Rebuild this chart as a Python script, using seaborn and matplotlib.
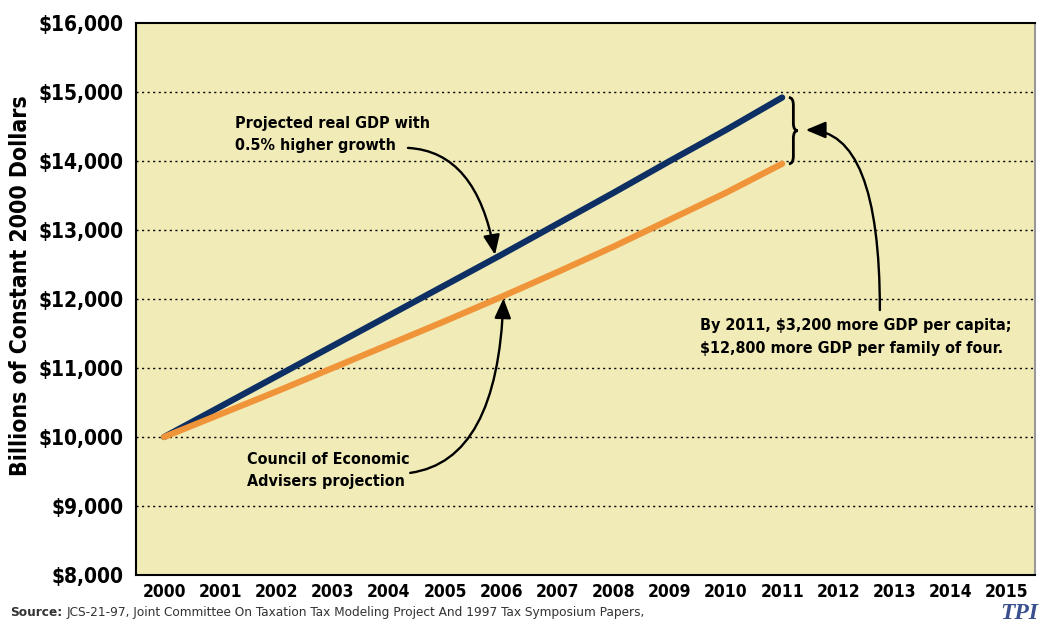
import numpy as np
import pandas as pd
import matplotlib
matplotlib.use("Agg")
import matplotlib.pyplot as plt
import seaborn as sns
from matplotlib.path import Path
from matplotlib.patches import PathPatch

# GDP projections, billions of constant 2000 dollars
years = list(range(2000, 2012))
higher_growth = [10000, 10440, 10880, 11320, 11760, 12200, 12640, 13090, 13540, 14000, 14450, 14920]
cea_projection = [10000, 10330, 10660, 11000, 11340, 11680, 12030, 12390, 12760, 13150, 13540, 13960]
x_labels = [str(y) for y in range(2000, 2016)]
y_ticks = list(range(8000, 16001, 1000))

BG = "#F1ECB7"
NAVY = "#0D2F63"
ORANGE = "#F0943A"

sns.set_theme(style="white")
plt.rcParams["font.family"] = ["DejaVu Sans"]
plt.rcParams["font.stretch"] = "condensed"
plt.rcParams["font.weight"] = "bold"
for key in ["text.color", "axes.labelcolor", "xtick.color", "ytick.color"]:
    plt.rcParams[key] = "black"

df = pd.DataFrame({
    "year": years * 2,
    "gdp": higher_growth + cea_projection,
    "series": ["higher"] * len(years) + ["cea"] * len(years),
})

fig = plt.figure(figsize=(10.47, 6.27), dpi=100)
ax = fig.add_axes([0.1299, 0.0829, 0.8586, 0.8804])
ax.set_facecolor(BG)

sns.lineplot(data=df, x="year", y="gdp", hue="series",
             palette={"higher": NAVY, "cea": ORANGE},
             linewidth=4.5, legend=False, ax=ax, zorder=3)
for ln in ax.get_lines():
    ln.set_solid_capstyle("round")

ax.set_xlim(1999.5, 2015.5)
ax.set_ylim(8000, 16000)
ax.set_yticks(y_ticks)
ax.set_yticklabels([f"${v:,}" for v in y_ticks], fontsize=15, fontweight="bold")
for v in y_ticks[1:-1]:
    ax.axhline(v, color="black", lw=1, ls=(0, (1.5, 2.5)), zorder=1)

# category labels centred, separator ticks at boundaries
ax.set_xticks(np.arange(1999.5, 2016, 1))
ax.set_xticklabels([])
ax.tick_params(axis="x", direction="out", length=6, width=1.2, color="black", pad=0)
ax.tick_params(axis="y", direction="out", length=6, width=1.2, color="black", pad=3)
for i, lab in enumerate(x_labels):
    ax.text(2000 + i, -0.014, lab, transform=ax.get_xaxis_transform(),
            ha="center", va="top", fontsize=12.5, fontweight="bold")

for side in ["left", "bottom", "top"]:
    ax.spines[side].set_color("black")
    ax.spines[side].set_linewidth(1.5)
ax.spines["right"].set_color("#999999")
ax.spines["right"].set_linewidth(1.5)

ax.set_xlabel("")
ax.set_ylabel("Billions of Constant 2000 Dollars", fontsize=16.5, fontweight="bold")
ax.yaxis.set_label_coords(-0.116, 0.525)

# annotation texts
txt_kw = dict(fontsize=11.5, fontweight="bold", ha="left", va="center", linespacing=1.6)
ax.text(2001.26, 14385, "Projected real GDP with\n0.5% higher growth", **txt_kw)
ax.text(2001.48, 9515, "Council of Economic\nAdvisers projection", **txt_kw)
ax.text(2009.54, 11450, "By 2011, $3,200 more GDP per capita;\n$12,800 more GDP per family of four.", **txt_kw)

# curved arrows
arrow = dict(arrowstyle="-|>,head_length=1.0,head_width=0.42", color="black", lw=1.7,
             shrinkA=0, shrinkB=0)
ax.annotate("", xy=(2005.89, 12640), xytext=(2004.34, 14190),
            arrowprops=dict(arrow, connectionstyle="angle3,angleA=-3,angleB=-80"))
ax.annotate("", xy=(2006.04, 12010), xytext=(2004.38, 9480),
            arrowprops=dict(arrow, connectionstyle="angle3,angleA=8,angleB=88"))
ax.annotate("", xy=(2011.42, 14450), xytext=(2012.74, 11840),
            arrowprops=dict(arrow, connectionstyle="angle3,angleA=90,angleB=0"))

# curly brace between the two 2011 end points
bx, top, bot = 2011.12, higher_growth[-1], cea_projection[-1]
mid = (top + bot) / 2
w = 0.16
h = w / 2
upper = Path([(bx, top), (bx + h, top), (bx + h, top - 110),
              (bx + h, mid + 110), (bx + h, mid), (bx + w, mid)],
             [Path.MOVETO, Path.CURVE3, Path.CURVE3, Path.LINETO, Path.CURVE3, Path.CURVE3])
lower = Path([(bx + w, mid), (bx + h, mid), (bx + h, mid - 110),
              (bx + h, bot + 110), (bx + h, bot), (bx, bot)],
             [Path.MOVETO, Path.CURVE3, Path.CURVE3, Path.LINETO, Path.CURVE3, Path.CURVE3])
for p in (upper, lower):
    ax.add_patch(PathPatch(p, fill=False, lw=2, edgecolor="black", zorder=4))

# footer
src = fig.text(0.0095, 0.012, "Source:", fontsize=9.7, fontweight="bold", color="#333333",
               ha="left", va="bottom")
fig.canvas.draw()
bb = src.get_window_extent(fig.canvas.get_renderer())
fig.text((bb.x1 + 4) / fig.bbox.width, 0.012,
         "JCS-21-97, Joint Committee On Taxation Tax Modeling Project And 1997 Tax Symposium Papers,",
         fontsize=9.7, fontweight="normal", color="#333333", ha="left", va="bottom")
fig.text(0.992, 0.004, "TPI", fontsize=17, fontweight="bold", style="italic",
         family=["Liberation Serif", "DejaVu Serif"], color="#3B4F8E", ha="right", va="bottom")

fig.savefig("out.png", dpi=100, facecolor="white")
